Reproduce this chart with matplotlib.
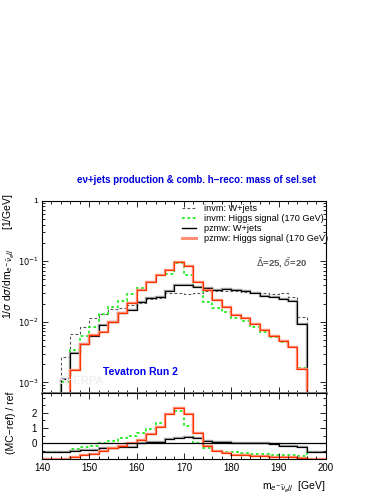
import numpy as np
import matplotlib
matplotlib.use("Agg")
import matplotlib.pyplot as plt
from matplotlib.ticker import MultipleLocator, LogLocator, NullFormatter, FuncFormatter
from matplotlib.lines import Line2D

plt.rcParams['font.family'] = ['Liberation Sans', 'DejaVu Sans']
plt.rcParams['mathtext.fontset'] = 'dejavusans'

# 2 GeV bins, 140-200 GeV
edges = np.arange(140, 202, 2)

# 1/sigma dsigma/dm [1/GeV]
invm_wjets = [0, 0, 2.61e-3, 6.24e-3, 8.14e-3, 1.15e-2, 1.35e-2, 1.61e-2, 1.68e-2, 1.90e-2,
              2.07e-2, 2.36e-2, 2.51e-2, 3.03e-2, 2.96e-2, 2.85e-2, 2.96e-2, 3.24e-2, 3.24e-2, 3.24e-2,
              3.24e-2, 3.15e-2, 3.03e-2, 2.96e-2, 2.92e-2, 2.96e-2, 2.61e-2, 1.19e-2, 0, 0]
invm_higgs = [0, 0, 1.01e-3, 3.44e-3, 5.85e-3, 8.34e-3, 1.35e-2, 1.78e-2, 2.24e-2, 2.85e-2,
              3.58e-2, 4.61e-2, 5.94e-2, 6.20e-2, 9.27e-2, 5.94e-2, 3.81e-2, 2.16e-2, 1.68e-2, 1.43e-2,
              1.15e-2, 1.05e-2, 8.34e-3, 6.89e-3, 5.57e-3, 4.61e-3, 3.81e-3, 1.71e-3, 0, 0]
pzmw_wjets = [0, 0, 1.14e-3, 3.10e-3, 4.27e-3, 5.85e-3, 8.89e-3, 1.01e-2, 1.39e-2, 1.57e-2,
              2.16e-2, 2.45e-2, 2.61e-2, 3.27e-2, 4.02e-2, 4.11e-2, 3.81e-2, 3.58e-2, 3.36e-2, 3.43e-2,
              3.36e-2, 3.20e-2, 2.96e-2, 2.71e-2, 2.55e-2, 2.36e-2, 2.24e-2, 9.23e-3, 0, 0]
pzmw_higgs = [0, 0, 0, 1.6e-3, 4.27e-3, 6.08e-3, 6.89e-3, 1.01e-2, 1.42e-2, 2.03e-2,
              3.36e-2, 4.55e-2, 5.94e-2, 7.18e-2, 9.85e-2, 8.36e-2, 4.61e-2, 3.36e-2, 2.30e-2, 1.74e-2,
              1.30e-2, 1.15e-2, 9.23e-3, 7.35e-3, 5.85e-3, 4.90e-3, 3.90e-3, 1.67e-3, 0, 0]

# (MC-ref)/ref
ratio_invm_higgs = [-0.6, -0.6, -0.6, -0.4, -0.25, -0.2, 0.02, 0.17, 0.37, 0.5,
                    0.65, 0.93, 1.3, 1.9, 2.1, 1.15, 0.0, -0.33, -0.48, -0.55,
                    -0.6, -0.65, -0.7, -0.72, -0.75, -0.78, -0.8, -0.85, -0.57, -0.57]
ratio_pzmw_wjets = [-0.57, -0.57, -0.57, -0.5, -0.45, -0.42, -0.3, -0.28, -0.25, -0.22,
                    0.0, 0.07, 0.07, 0.28, 0.33, 0.43, 0.33, 0.17, 0.1, 0.07,
                    0.05, 0.05, 0.03, 0.0, -0.05, -0.2, -0.2, -0.25, -0.57, -0.57]
ratio_pzmw_higgs = [-1.0, -1.0, -1.0, -0.87, -0.78, -0.7, -0.5, -0.33, -0.17, 0.0,
                    0.22, 0.59, 1.08, 1.9, 2.29, 1.9, 0.65, -0.2, -0.48, -0.65,
                    -0.74, -0.78, -0.82, -0.85, -0.88, -0.9, -0.93, -0.95, -1.0, -1.0]

RED = '#ff3300'
SALMON = '#ff9077'
GREEN = '#22ee22'
GREY = '#555555'

fig = plt.figure(figsize=(3.82, 4.94), dpi=100)
ax = fig.add_axes([0.110, 0.2045, 0.743, 0.3895])
rax = fig.add_axes([0.110, 0.0709, 0.743, 0.1336], sharex=ax)


def pos(v):
    return np.clip(np.asarray(v, dtype=float), 1e-9, None)


ax.stairs(pos(invm_wjets), edges, color=GREY, lw=0.8, ls=(0, (2.5, 2)), baseline=None)
ax.stairs(pos(invm_higgs), edges, color=GREEN, lw=1.3, ls=(0, (1.5, 1.5)), baseline=None)
ax.stairs(pos(pzmw_wjets), edges, color='#888888', lw=1.7, alpha=0.8, baseline=None)
ax.stairs(pos(pzmw_wjets), edges, color='black', lw=0.8, baseline=None)
ax.stairs(pos(pzmw_higgs), edges, color=SALMON, lw=1.7, baseline=None)
ax.stairs(pos(pzmw_higgs), edges, color=RED, lw=0.8, baseline=None)

ax.set_yscale('log')
ax.set_xlim(140, 200)
ax.set_ylim(6.7e-4, 1.0)

handles = [
    Line2D([], [], color=GREY, lw=0.8, ls=(0, (2.5, 2))),
    Line2D([], [], color=GREEN, lw=1.3, ls=(0, (1.5, 1.5))),
    Line2D([], [], color='black', lw=1.0),
    Line2D([], [], color=SALMON, lw=2.2),
]
labels = ['invm: W+jets', 'invm: Higgs signal (170 GeV)',
          'pzmw: W+jets', 'pzmw: Higgs signal (170 GeV)']
ax.legend(handles, labels, loc='upper left', bbox_to_anchor=(0.49, 0.99),
          frameon=False, fontsize=6.6, handlelength=1.5, handletextpad=0.8,
          labelspacing=0.12, borderpad=0.15, borderaxespad=0.0)

ax.text(0.755, 0.676, r'$\bar{\Delta}$=25, $\bar{\delta}$=20', transform=ax.transAxes,
        color='#555555', fontsize=6.8, fontweight='bold', va='center')
ax.text(0.215, 0.11, 'Tevatron Run 2', transform=ax.transAxes,
        color='#0000ee', fontsize=7.5, fontweight='bold', va='center')
ax.text(0.06, 0.06, 'SHERPA', transform=ax.transAxes,
        color='#f0f0f0', fontsize=8, fontweight='bold', va='center')

fig.text(0.515, 0.636, 'e\u03bd+jets production & comb. h\u2212reco: mass of sel.set',
         ha='center', va='center', color='#0000dd', fontsize=7, fontweight='bold')

ax.set_ylabel(r'1/$\sigma$ d$\sigma$/dm$_{e^{-}\bar{\nu}_{e}jj}$       [1/GeV]',
              fontsize=7.5, loc='top')
ax.yaxis.set_label_coords(-0.09, 1.035)
ax.yaxis.set_major_formatter(FuncFormatter(
    lambda v, p: '1' if abs(v - 1) < 1e-9 else r'$10^{%d}$' % round(np.log10(v))))

# ratio panel
rax.stairs(ratio_invm_higgs, edges, color=GREEN, lw=1.3, ls=(0, (1.5, 1.5)), baseline=None)
rax.stairs(ratio_pzmw_wjets, edges, color='#888888', lw=1.7, alpha=0.8, baseline=None)
rax.stairs(ratio_pzmw_wjets, edges, color='black', lw=0.8, baseline=None)
rax.stairs(ratio_pzmw_higgs, edges, color=SALMON, lw=1.7, baseline=None)
rax.stairs(ratio_pzmw_higgs, edges, color=RED, lw=0.8, baseline=None)
rax.axhline(0, color='black', lw=0.9)
rax.set_ylim(-1.03, 3.3)
rax.set_yticks([0, 1, 2])
rax.yaxis.set_minor_locator(MultipleLocator(0.5))
rax.set_ylabel('(MC\u2212ref) / ref', fontsize=7.5)
rax.yaxis.set_label_coords(-0.09, 0.55)
rax.set_xlabel(r'm$_{e^{-}\bar{\nu}_{e}jj}$  [GeV]', fontsize=7.5, loc='right')
rax.xaxis.set_label_coords(1.0, -0.3)

for a in (ax, rax):
    a.tick_params(which='both', direction='in', top=True, right=True, labelsize=7, width=0.6)
    a.tick_params(which='major', length=4.5)
    a.tick_params(which='minor', length=2.5)
    a.xaxis.set_major_locator(MultipleLocator(10))
    a.xaxis.set_minor_locator(MultipleLocator(2))
    for s in a.spines.values():
        s.set_linewidth(0.8)
ax.yaxis.set_minor_locator(LogLocator(base=10, subs=np.arange(2, 10), numticks=20))
ax.yaxis.set_minor_formatter(NullFormatter())
ax.tick_params(axis='y', labelsize=6, pad=2.5)
ax.tick_params(axis='x', labelbottom=False)
ax.spines['bottom'].set_color('#777777')
ax.spines['bottom'].set_linewidth(2.0)
rax.tick_params(axis='x', pad=3)

fig.savefig('out.png', dpi=100)
